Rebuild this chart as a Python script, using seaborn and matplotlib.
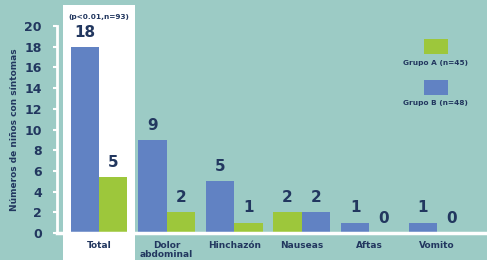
import matplotlib
matplotlib.use("Agg")
import matplotlib.pyplot as plt
import matplotlib.transforms as mtransforms
from matplotlib.patches import Rectangle
import seaborn as sns
import pandas as pd

categorias = ["Total", "Dolor\nabdominal", "Hinchazón", "Nauseas", "Aftas", "Vomito"]
grupo_b = [18, 9, 5, 2, 1, 1]
grupo_a = [5.4, 2, 1, 2, 0, 0]
b_a_la_izquierda = [True, True, True, False, True, True]
etiqueta_a = "Grupo A (n=45)"
etiqueta_b = "Grupo B (n=48)"
nota_total = "(p<0.01,n=93)"
ytick_vals = list(range(0, 21, 2))

FONDO = "#9ccbc5"
AZUL = "#6182c3"
VERDE = "#9dc73b"
TEXTO = "#22375f"

# long format, each pair of bars side by side around the category index
filas = []
for i, (b, a, izq) in enumerate(zip(grupo_b, grupo_a, b_a_la_izquierda)):
    off = 0.21 if izq else -0.21
    filas.append({"pos": i - off, "valor": b, "grupo": etiqueta_b})
    filas.append({"pos": i + off, "valor": a, "grupo": etiqueta_a})
df = pd.DataFrame(filas)

sns.set_style("white")
plt.rcParams["font.family"] = ["DejaVu Sans"]

fig = plt.figure(figsize=(4.87, 2.60), dpi=100, facecolor=FONDO)
ax = fig.add_axes([0.117, 0.1038, 0.883, 0.796])
ax.set_facecolor("none")

sns.barplot(data=df, x="pos", y="valor", hue="grupo",
            palette={etiqueta_a: VERDE, etiqueta_b: AZUL},
            native_scale=True, dodge=False, width=1.0, saturation=1,
            linewidth=0, edgecolor="none", legend=False, ax=ax, zorder=3)

# white panel behind "Total"
trans = mtransforms.blended_transform_factory(ax.transData, ax.transAxes)
ax.add_patch(Rectangle((-0.53, -0.14), 1.06, 1.24, transform=trans,
                       facecolor="white", edgecolor="none", clip_on=False, zorder=0.1))

# value labels
for _, r in df.iterrows():
    ax.text(r["pos"], r["valor"] + 0.7, f"{r['valor']:.0f}", ha="center", va="bottom",
            fontsize=11, fontweight="bold", color=TEXTO, zorder=4)

ax.text(0, 20.85, nota_total, ha="center", va="center", fontsize=5.3,
        fontweight="bold", color=TEXTO, clip_on=False)

ax.set_xlim(-0.62, 5.74)
ax.set_ylim(0, 20)
ax.set_yticks(ytick_vals)
ax.set_yticklabels([str(v) for v in ytick_vals], fontsize=9, fontweight="bold", color=TEXTO)
ax.set_xticks(range(len(categorias)))
ax.set_xticklabels(categorias, fontsize=6.5, fontweight="bold", color=TEXTO, linespacing=0.95)
ax.tick_params(axis="x", length=0, pad=6)
ax.tick_params(axis="y", length=3, width=1.5, color="white", pad=8, left=True)
ax.set_xlabel("")
ax.set_ylabel("Números de niños con síntomas", fontsize=6.5, fontweight="bold",
              color=TEXTO, labelpad=4)

for s in ["top", "right"]:
    ax.spines[s].set_visible(False)
ax.spines["left"].set_color("white")
ax.spines["left"].set_linewidth(2)
ax.spines["bottom"].set_color("white")
ax.spines["bottom"].set_linewidth(2.5)
ax.spines["bottom"].set_zorder(3.5)

# legend: swatch with the label under it
for col, lab, y, ytxt in [(VERDE, etiqueta_a, 0.792, 0.758), (AZUL, etiqueta_b, 0.635, 0.604)]:
    fig.add_artist(Rectangle((0.870, y), 0.049, 0.058, transform=fig.transFigure,
                             facecolor=col, edgecolor="none"))
    fig.text(0.894, ytxt, lab, ha="center", va="center", fontsize=5.3,
             fontweight="bold", color=TEXTO)

fig.savefig("out.png", dpi=100, facecolor=FONDO)
